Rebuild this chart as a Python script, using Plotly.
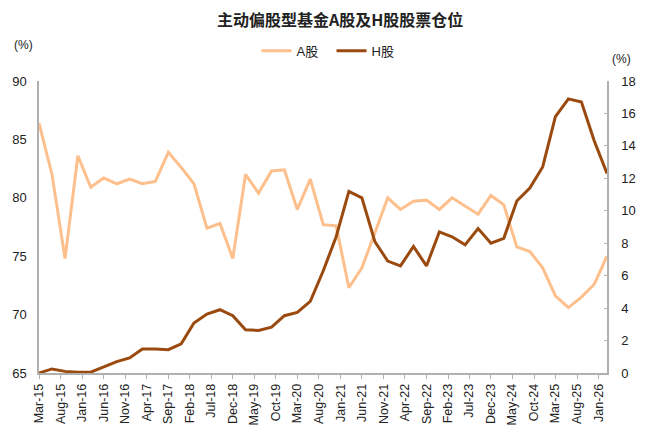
import plotly.graph_objects as go

# quarterly observation dates (Mar-15 .. Mar-26)
dates = [f"{y}-{m:02d}-01" for y in range(2015, 2027) for m in (3, 6, 9, 12)]
dates = [d for d in dates if d <= "2026-03-01"]

a_share = [86.4, 82.0, 74.8, 83.6, 80.9, 81.7, 81.2, 81.6, 81.2, 81.4,
           83.9, 82.6, 81.2, 77.4, 77.8, 74.8, 82.0, 80.4, 82.3, 82.4,
           79.0, 81.6, 77.7, 77.6, 72.3, 74.0, 77.0, 80.0, 79.0, 79.7,
           79.8, 79.0, 80.0, 79.3, 78.6, 80.2, 79.4, 75.8, 75.4, 74.0,
           71.6, 70.6, 71.5, 72.6, 75.0]
h_share = [0.0, 0.25, 0.1, 0.04, 0.05, 0.4, 0.7, 0.93, 1.48, 1.48,
           1.44, 1.8, 3.08, 3.63, 3.9, 3.53, 2.67, 2.62, 2.83, 3.53,
           3.73, 4.41, 6.3, 8.4, 11.2, 10.8, 8.1, 6.9, 6.6, 7.8,
           6.6, 8.7, 8.4, 7.9, 8.9, 8.0, 8.3, 10.6, 11.4, 12.7,
           15.8, 16.9, 16.7, 14.3, 12.3]

title = "主动偏股型基金A股及H股股票仓位"
names = ["A股", "H股"]

FONT = "Liberation Sans, Arial, Noto Sans CJK SC"
C_A = "#FDBF8C"
C_H = "#9A4A0E"
AX = "#b0b0b0"

fig = go.Figure()
fig.add_trace(go.Scatter(x=dates, y=a_share, name=names[0], mode="lines",
                         line=dict(color=C_A, width=3), yaxis="y"))
fig.add_trace(go.Scatter(x=dates, y=h_share, name=names[1], mode="lines",
                         line=dict(color=C_H, width=3), yaxis="y2"))

# page body has an 8px offset; margins compensate so plot sits at 39..607 x 81..373
fig.update_layout(
    width=650, height=437,
    margin=dict(l=31, r=51, t=73, b=72, autoexpand=False),
    paper_bgcolor="white", plot_bgcolor="white",
    font=dict(family=FONT, size=13, color="#222"),
    title=dict(text=f"<b>{title}</b>", x=0.511, xanchor="center",
               y=0.9725, yanchor="middle", font=dict(size=16, color="#222",
               family="Noto Sans CJK SC, Liberation Sans")),
    legend=dict(orientation="h", x=0.515, xanchor="center", y=1.103,
                yanchor="middle", font=dict(size=13), itemwidth=30,
                entrywidth=30, bgcolor="rgba(0,0,0,0)"),
    xaxis=dict(type="date", range=["2015-03-01", "2026-03-01"],
               tick0="2015-03-01", dtick="M5", tickformat="%b-%y",
               tickangle=-90, showgrid=False, showline=True,
               linecolor=AX, linewidth=1.5, ticks="outside",
               ticklen=4, tickcolor=AX, automargin=False,
               tickfont=dict(size=12.5, color="#222")),
    yaxis=dict(range=[65, 90], dtick=5, showgrid=False, showline=True,
               linecolor=AX, linewidth=1.5, ticks="", automargin=False,
               ticklabelstandoff=8,
               zeroline=False, tickfont=dict(size=13, color="#222")),
    yaxis2=dict(range=[0, 18], dtick=2, overlaying="y", side="right",
                showgrid=False, showline=True, linecolor=AX,
                linewidth=1.5, ticks="inside", ticklen=3, automargin=False,
                ticklabelstandoff=10,
                tickcolor=AX, zeroline=False,
                tickfont=dict(size=13, color="#222")),
    annotations=[
        dict(text="(%)", xref="paper", yref="paper", x=-0.028, y=1.123,
             xanchor="center", yanchor="middle", showarrow=False,
             font=dict(size=12, color="#222")),
        dict(text="(%)", xref="paper", yref="paper", x=1.026, y=1.075,
             xanchor="center", yanchor="middle", showarrow=False,
             font=dict(size=12, color="#222")),
    ],
)

fig.write_html("out.html")
